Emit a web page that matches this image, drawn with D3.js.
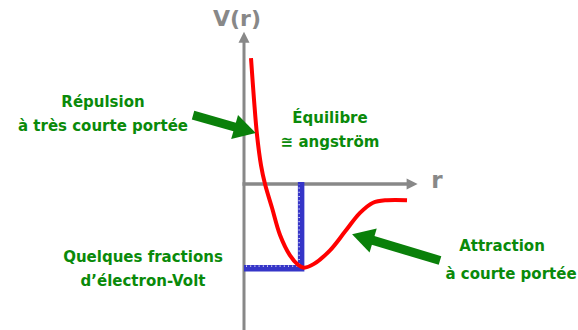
<!doctype html>
<html>
<head>
<meta charset="utf-8">
<style>
  body { margin: 0; background: #fff; }
  svg { display: block; }
  text.note { font-family: 'DejaVu Sans', sans-serif; font-weight: bold; font-size: 15px; fill: #0a8a0a; }
  text.axis-label { font-family: 'DejaVu Sans', sans-serif; font-weight: bold; fill: #888; }
</style>
<script src="https://d3js.org/d3.v7.min.js"></script>
</head>
<body>
<svg width="578" height="330"></svg>
<script>
// potential curve V(r), arbitrary units (r0 = 1, well depth = 1)
const rVals = [0.125, 0.179, 0.232, 0.304, 0.375, 0.5, 0.643, 0.821, 0.964, 1.07, 1.25, 1.536, 1.804, 2.071, 2.304, 2.554, 2.911];
const vVals = [1.48, 0.99, 0.58, 0.22, 0, -0.28, -0.6, -0.84, -0.95, -0.985, -0.94, -0.78, -0.56, -0.34, -0.22, -0.19, -0.19];

const rEq = 1.02;
const vMin = -0.99;

// axis extents
const rAxisMax = 3.1;
const vAxisMax = 1.79;
const vAxisMin = -1.72;

// annotation arrows [r, V] tail -> tip
const arrowRepulsion = [[-0.91, 0.81], [0.21, 0.6]];
const arrowAttraction = [[3.5, -0.9], [1.93, -0.59]];

const labels = [
  { lines: ['Répulsion', 'à très courte portée'], x: 103, y: 107 },
  { lines: ['Équilibre', '≅ angström'], x: 330, y: 123 },
  { lines: ['Quelques fractions', 'd\u2019électron-Volt'], x: 143, y: 262 },
  { lines: ['Attraction', 'à courte portée'], x: 502, y: 251, dx: [0, 9] }
];

const svg = d3.select('svg');

const x = d3.scaleLinear().domain([0, 1]).range([244, 300]);
const y = d3.scaleLinear().domain([0, -1]).range([184, 269]);

const grey = '#888';

// axes
function arrowLine(x1, y1, x2, y2, color, w, headLen, headW) {
  const ang = Math.atan2(y2 - y1, x2 - x1);
  const bx = x2 - headLen * Math.cos(ang), by = y2 - headLen * Math.sin(ang);
  svg.append('line')
    .attr('x1', x1).attr('y1', y1).attr('x2', bx + Math.cos(ang)).attr('y2', by + Math.sin(ang))
    .attr('stroke', color).attr('stroke-width', w);
  const px = -Math.sin(ang), py = Math.cos(ang);
  svg.append('path')
    .attr('d', `M${x2},${y2}L${bx + px * headW},${by + py * headW}L${bx - px * headW},${by - py * headW}Z`)
    .attr('fill', color);
}

arrowLine(x(0), y(vAxisMin), x(0), y(vAxisMax), grey, 3, 11, 5.5);
arrowLine(x(0) - 1.5, y(0), x(rAxisMax), y(0), grey, 3.5, 11, 5.5);

svg.append('text').attr('class', 'axis-label')
  .attr('x', 237).attr('y', 26).attr('text-anchor', 'middle')
  .attr('font-size', 22).text('V(r)');
svg.append('text').attr('class', 'axis-label')
  .attr('x', 437).attr('y', 188).attr('text-anchor', 'middle')
  .attr('font-size', 23).text('r');

// equilibrium markers (blue)
const blue = '#3535c8';
svg.append('path')
  .attr('d', `M${x(0)},${y(vMin)}H${x(rEq)}V${y(0) - 2}`)
  .attr('fill', 'none').attr('stroke', blue).attr('stroke-width', 6.5);
svg.append('path')
  .attr('d', `M${x(0) + 2},${y(vMin) - 2}H${x(rEq) - 2}`)
  .attr('fill', 'none').attr('stroke', '#fff').attr('stroke-width', 1.2)
  .attr('stroke-dasharray', '1 3.2');
svg.append('path')
  .attr('d', `M${x(rEq) - 2},${y(vMin) - 4}V${y(0)}`)
  .attr('fill', 'none').attr('stroke', '#fff').attr('stroke-width', 1.2)
  .attr('stroke-dasharray', '1 3.2');

// potential curve
const pts = rVals.map((r, i) => [x(r), y(vVals[i])]);
svg.append('path')
  .attr('d', d3.line().curve(d3.curveCatmullRom.alpha(0.5))(pts))
  .attr('fill', 'none').attr('stroke', '#ff0000').attr('stroke-width', 4)
  .attr('stroke-linecap', 'butt');

// green annotation arrows
const green = '#0a800a';
[arrowRepulsion, arrowAttraction].forEach(a => {
  arrowLine(x(a[0][0]), y(a[0][1]), x(a[1][0]), y(a[1][1]), green, 9, 22, 12.5);
});

// texts
labels.forEach(l => {
  const t = svg.append('text').attr('class', 'note').attr('text-anchor', 'middle');
  l.lines.forEach((s, i) => {
    t.append('tspan').attr('x', l.x + (l.dx ? l.dx[i] : 0)).attr('y', l.y + i * (l.dx ? 28 : 24)).text(s);
  });
});
</script>
</body>
</html>
